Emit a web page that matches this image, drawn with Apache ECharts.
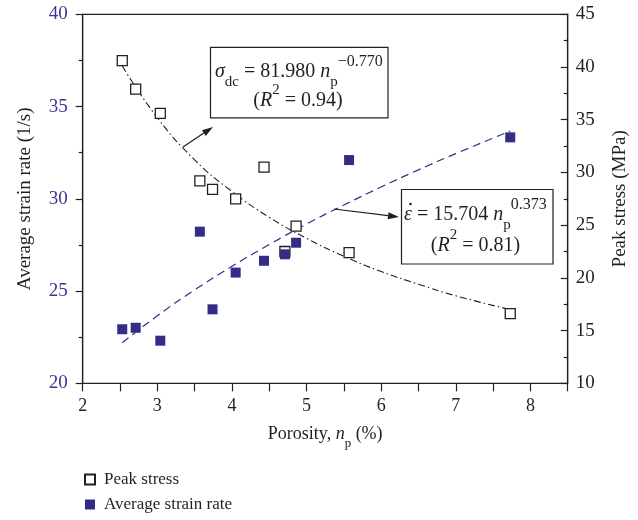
<!DOCTYPE html>
<html>
<head>
<meta charset="utf-8">
<script src="https://cdn.jsdelivr.net/npm/echarts@6/dist/echarts.min.js"></script>
<style>
  html, body { margin: 0; padding: 0; background: #fff; }
  #chart { width: 638px; height: 520px; }
</style>
</head>
<body>
<div id="chart"></div>
<script>
// Porosity n_p (%) of each specimen
const porosity = [2.53, 2.71, 3.04, 3.57, 3.74, 4.05, 4.43, 4.71, 4.86, 5.57, 7.73];
// Peak stress (MPa), right axis
const peakStress = [40.6, 37.9, 35.6, 29.2, 28.4, 27.5, 30.5, 22.5, 24.9, 22.4, 16.6];
// Average strain rate (1/s), left axis
const strainRate = [22.93, 23.01, 22.31, 28.22, 24.01, 26.0, 26.64, 26.99, 27.62, 32.1, 33.33];

// Fitted trend curves, sampled along porosity
const fitX = [2.53, 3, 3.5, 4, 4.5, 5, 5.5, 6, 6.5, 7, 7.73];
const stressFit = [40.1, 35.2, 31.2, 28.2, 25.75, 23.75, 22.05, 20.6, 19.4, 18.3, 17.0];
const strainFit = [22.2, 23.66, 25.06, 26.34, 27.52, 28.63, 29.66, 30.64, 31.57, 32.45, 33.67];

const xTicks = [2, 3, 4, 5, 6, 7, 8];

const SERIF = '"Liberation Serif", "DejaVu Serif", serif';
const NAVY = '#332d88';
const INK = '#231f20';

const pairs = (xs, ys) => xs.map((x, i) => [x, ys[i]]);

// Arrow (shaft + filled head) from (x1,y1) to (x2,y2)
function arrow(x1, y1, x2, y2) {
  const dx = x2 - x1, dy = y2 - y1;
  const len = Math.hypot(dx, dy);
  const ux = dx / len, uy = dy / len;
  const hl = 11, hw = 3.5;
  const bx = x2 - ux * hl, by = y2 - uy * hl;
  return [
    { type: 'line', shape: { x1: x1, y1: y1, x2: bx, y2: by },
      style: { stroke: INK, lineWidth: 1.2 }, z: 20 },
    { type: 'polygon',
      shape: { points: [[x2, y2], [bx - uy * hw, by + ux * hw], [bx + uy * hw, by - ux * hw]] },
      style: { fill: INK }, z: 20 }
  ];
}

// Rich-text styles for the fitted equations (line height 36 sets the baseline frame)
const richMath = {
  t:    { fontFamily: SERIF, fontSize: 20, color: INK, lineHeight: 36 },
  i:    { fontFamily: SERIF, fontSize: 20, fontStyle: 'italic', color: INK, lineHeight: 36 },
  sub:  { fontFamily: SERIF, fontSize: 15, color: INK, lineHeight: 31, verticalAlign: 'bottom' },
  sup:  { fontFamily: SERIF, fontSize: 16, color: INK, lineHeight: 15, verticalAlign: 'top' },
  sup2: { fontFamily: SERIF, fontSize: 15, color: INK, lineHeight: 24, verticalAlign: 'top' }
};

function mathText(x, y, str, align) {
  return {
    type: 'text', x: x, y: y, z: 21,
    style: { text: str, rich: richMath, align: align || 'center', verticalAlign: 'middle',
             fontFamily: SERIF, fontSize: 20, fill: INK }
  };
}

const chart = echarts.init(document.getElementById('chart'), null, { renderer: 'canvas' });

const option = {
  backgroundColor: '#fff',
  animation: false,
  textStyle: { fontFamily: SERIF },
  grid: { left: 82.7, right: 70.3, top: 14.3, bottom: 136.7, show: true,
          borderColor: INK, borderWidth: 1.2, backgroundColor: 'transparent' },
  legend: {
    data: ['Peak stress', 'Average strain rate'],
    orient: 'vertical', left: 79, top: 466, itemGap: 8,
    itemWidth: 10, itemHeight: 10,
    textStyle: { fontFamily: SERIF, fontSize: 17, color: INK, padding: [0, 0, 0, 4] }
  },
  xAxis: {
    type: 'value', min: 2, max: 8.5, interval: 0.5,
    name: 'Porosity, {i|n}{sub|p} (%)', nameLocation: 'middle', nameGap: 42,
    nameTextStyle: { fontFamily: SERIF, fontSize: 18, color: INK,
      rich: { i: { fontFamily: SERIF, fontSize: 18, fontStyle: 'italic', color: INK },
              sub: { fontFamily: SERIF, fontSize: 13, color: INK, verticalAlign: 'bottom', padding: [0, 0, -7, 0] } } },
    axisLine: { show: true, onZero: false, lineStyle: { color: INK, width: 1.2 } },
    axisTick: { show: true, inside: false, length: 8, lineStyle: { color: INK, width: 1.2 } },
    axisLabel: { margin: 14, fontFamily: SERIF, fontSize: 18, color: INK,
      formatter: v => (xTicks.indexOf(v) >= 0 ? String(v) : '') },
    splitLine: { show: false }
  },
  yAxis: [
    {
      type: 'value', min: 20, max: 40, interval: 5, position: 'left',
      name: 'Average strain rate (1/s)', nameLocation: 'middle', nameGap: 48,
      nameTextStyle: { fontFamily: SERIF, fontSize: 19, color: INK },
      axisLine: { show: true, lineStyle: { color: INK, width: 1.2 } },
      axisTick: { show: true, inside: false, length: 7, lineStyle: { color: INK, width: 1.2 } },
      minorTick: { show: true, splitNumber: 2, length: 4, lineStyle: { color: INK, width: 1.2 } },
      axisLabel: { margin: 15, fontFamily: SERIF, fontSize: 19, color: '#3b3592' },
      splitLine: { show: false }
    },
    {
      type: 'value', min: 10, max: 45, interval: 5, position: 'right',
      name: 'Peak stress (MPa)', nameLocation: 'middle', nameGap: 43,
      nameTextStyle: { fontFamily: SERIF, fontSize: 19, color: INK },
      axisLine: { show: true, lineStyle: { color: INK, width: 1.2 } },
      axisTick: { show: true, inside: true, length: 7, lineStyle: { color: INK, width: 1.2 } },
      minorTick: { show: true, splitNumber: 2, length: 4, lineStyle: { color: INK, width: 1.2 } },
      axisLabel: { margin: 8, fontFamily: SERIF, fontSize: 19, color: INK },
      splitLine: { show: false }
    }
  ],
  series: [
    {
      name: 'Stress fit', type: 'line', yAxisIndex: 1, smooth: true, showSymbol: false,
      data: pairs(fitX, stressFit), silent: true, z: 2,
      lineStyle: { color: INK, width: 1.1, type: [7, 3, 1.5, 3] }
    },
    {
      name: 'Strain fit', type: 'line', yAxisIndex: 0, smooth: true, showSymbol: false,
      data: pairs(fitX, strainFit), silent: true, z: 2,
      lineStyle: { color: NAVY, width: 1.2, type: [8, 5] }
    },
    {
      name: 'Peak stress', type: 'scatter', yAxisIndex: 1, symbol: 'rect', symbolSize: 10,
      data: pairs(porosity, peakStress), z: 5,
      itemStyle: { color: '#fff', borderColor: INK, borderWidth: 1.3, opacity: 1 }
    },
    {
      name: 'Average strain rate', type: 'scatter', yAxisIndex: 0, symbol: 'rect', symbolSize: 10,
      data: pairs(porosity, strainRate), z: 6,
      itemStyle: { color: NAVY, opacity: 1 }
    }
  ],
  graphic: [
    { type: 'rect', shape: { x: 210.5, y: 47.3, width: 177.5, height: 70.5 },
      style: { fill: '#fff', stroke: INK, lineWidth: 1.2 }, z: 19 },
    mathText(215, 72, '{i|σ}{sub|dc}{t| = 81.980 }{i|n}{sub|p}{sup|−0.770}', 'left'),
    mathText(298, 101, '{t|(}{i|R}{sup2|2}{t| = 0.94)}'),
    { type: 'rect', shape: { x: 401.5, y: 189.5, width: 151.5, height: 74.5 },
      style: { fill: '#fff', stroke: INK, lineWidth: 1.2 }, z: 19 },
    mathText(404, 215, '{i|ε}{t| = 15.704 }{i|n}{sub|p}{sup|0.373}', 'left'),
    { type: 'circle', shape: { cx: 410.5, cy: 204, r: 1.3 }, style: { fill: INK }, z: 22 },
    mathText(475.5, 246, '{t|(}{i|R}{sup2|2}{t| = 0.81)}'),
    ...arrow(183, 147, 213, 127),
    ...arrow(334, 209, 399, 217)
  ]
};

chart.setOption(option);
</script>
</body>
</html>
